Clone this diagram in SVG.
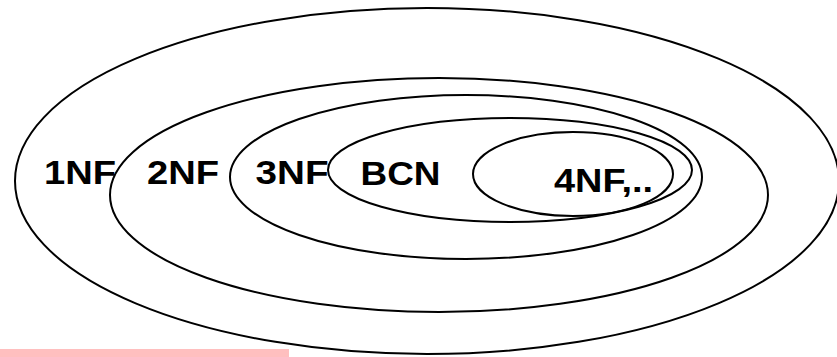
<svg xmlns="http://www.w3.org/2000/svg" width="837" height="357" viewBox="0 0 837 357">
  <style>
    .ring { fill: none; stroke: #000; stroke-width: 2; }
    .lbl { font-family: "Liberation Sans", Arial, sans-serif; font-weight: bold; font-size: 33px; fill: #000; }
  </style>
  <rect width="837" height="357" fill="#fff"/>
  <rect x="0" y="349" width="289" height="8" fill="#ffbfbf"/>
  <g id="nf1">
    <ellipse class="ring" cx="427" cy="181" rx="412" ry="173"/>
    <text class="lbl" x="44" y="184" textLength="72" lengthAdjust="spacingAndGlyphs">1NF</text>
  </g>
  <g id="nf2">
    <ellipse class="ring" cx="439" cy="195" rx="329" ry="117"/>
    <text class="lbl" x="147" y="184" textLength="72" lengthAdjust="spacingAndGlyphs">2NF</text>
  </g>
  <g id="nf3">
    <ellipse class="ring" cx="466" cy="177" rx="236" ry="82"/>
    <text class="lbl" x="255.5" y="184" textLength="73" lengthAdjust="spacingAndGlyphs">3NF</text>
  </g>
  <g id="bcnf">
    <ellipse class="ring" cx="510" cy="170" rx="182" ry="52"/>
    <text class="lbl" x="360.5" y="185" textLength="80" lengthAdjust="spacingAndGlyphs">BCN</text>
  </g>
  <g id="nf4">
    <ellipse class="ring" cx="573" cy="174" rx="100" ry="42"/>
    <text class="lbl" x="554" y="192" textLength="99" lengthAdjust="spacingAndGlyphs">4NF,..</text>
  </g>
</svg>
